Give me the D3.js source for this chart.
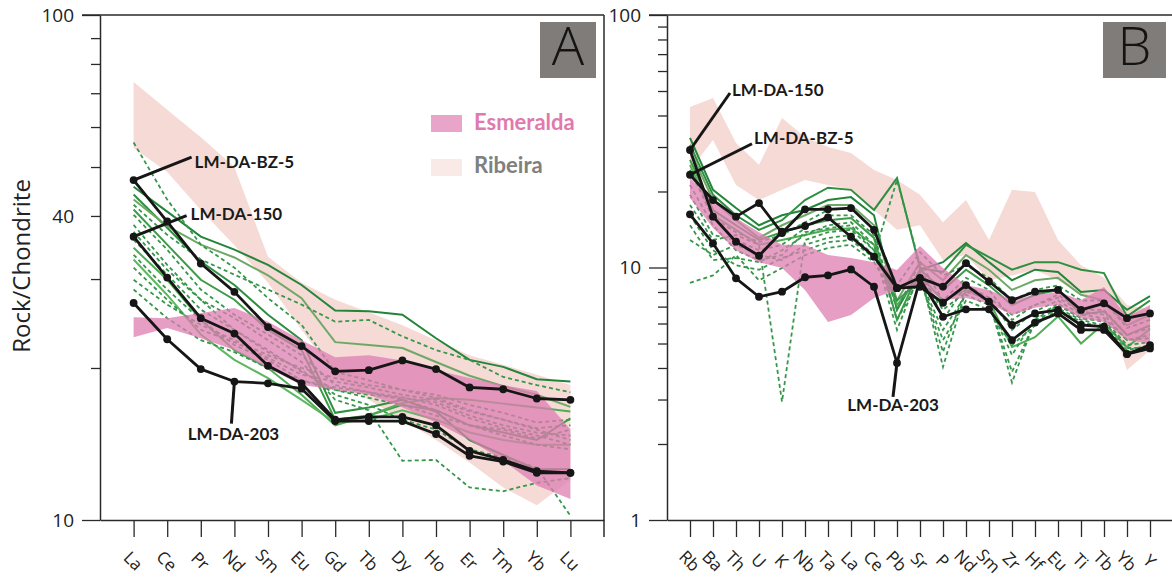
<!DOCTYPE html>
<html><head><meta charset="utf-8">
<script src="https://cdn.jsdelivr.net/npm/d3@7"></script>
<style>body{margin:0;background:#fff} svg{display:block}</style>
</head><body>
<svg id="c" width="1172" height="579"></svg>
<script>
// ---------- Panel A : REE ----------
const catsA = ["La","Ce","Pr","Nd","Sm","Eu","Gd","Tb","Dy","Ho","Er","Tm","Yb","Lu"];
const ticksA = [10,40,100];
const blackA_BZ5 = [47.1,39.0,32.2,28.3,24.1,22.1,19.7,19.8,20.7,19.9,18.3,18.15,17.4,17.3];
const blackA_150 = [36.4,30.2,25.1,23.4,20.2,18.65,15.8,16.0,16.0,15.4,13.7,13.15,12.5,12.4];
const blackA_203 = [26.9,22.8,19.9,18.8,18.65,18.2,15.7,15.7,15.7,14.8,13.4,13.05,12.4,12.4];
const ribeiraA_hi = [73.7,64.9,57.3,50.0,33.2,29.5,27.3,25.8,24.3,22.7,21.2,20.3,19.4,18.5];
const ribeiraA_lo = [54.5,48.9,41.1,35.0,29.5,23.8,19.4,17.3,15.8,14.4,13.0,11.6,10.7,12.0];
const esmeraldaA_hi = [25.2,25.1,25.7,26.3,24.7,22.7,21.0,21.2,20.7,19.8,19.1,18.5,18.0,15.1];
const esmeraldaA_lo = [23.0,24.0,22.9,21.7,20.0,18.5,18.1,17.7,16.7,15.6,14.4,13.1,11.7,11.0];
const greenSolidA = [
  [45.7,40.8,36.4,34.3,32.0,29.2,26.0,25.9,25.5,22.9,20.75,20.1,19.0,18.8],
  [44.1,37.9,32.5,29.2,25.5,22.7,16.3,16.7,17.3,16.4,14.4,13.45,12.6,12.6],
  [43.1,38.2,35.1,33.1,30.5,27.5,22.5,22.2,21.9,20.55,19.3,18.4,17.7,16.75],
  [41.2,35.1,29.9,27.3,23.8,21.7,15.8,16.1,16.9,16.5,15.4,14.9,14.4,15.9],
  [34.6,29.9,24.9,21.7,20.0,17.7,15.4,16.1,17.05,17.45,17.3,17.0,16.7,16.4],
  [32.8,27.9,23.3,20.75,19.1,17.3,15.6,15.8,16.5,15.8,14.9,14.4,14.1,14.1]
];
const greenDashedA = [
  [55.9,43.1,35.1,31.6,27.5,24.35,19.65,18.9,18.1,17.45,16.5,15.8,15.1,14.4],
  [42.1,36.7,32.8,30.6,28.6,26.7,24.7,24.9,23.1,21.7,20.75,19.2,18.5,17.9],
  [40.2,34.3,28.6,25.5,23.3,21.2,18.5,17.9,17.3,16.5,15.4,14.7,14.1,13.8],
  [38.4,32.0,27.3,25.1,22.7,20.55,17.3,16.5,13.1,13.15,11.6,11.4,11.85,12.1],
  [35.9,30.6,26.1,23.8,21.5,19.8,17.7,16.9,15.8,15.1,13.8,13.3,12.7,10.2],
  [33.5,28.6,24.9,22.2,20.75,18.9,18.1,17.45,16.9,16.1,15.4,15.1,14.5,15.1],
  [31.6,27.3,23.8,22.5,20.95,19.4,18.8,18.3,17.7,17.3,16.4,15.8,15.2,15.4],
  [29.9,26.7,24.35,22.7,21.2,20.0,19.1,18.5,18.1,17.7,16.9,16.3,15.6,15.8],
  [37.2,31.3,27.3,23.8,21.7,19.65,18.1,17.7,17.45,17.1,16.1,15.4,14.9,14.7],
  [28.6,25.1,22.7,21.5,20.0,18.9,18.3,17.9,17.5,16.9,15.9,15.2,14.7,14.1]
];

// ---------- Panel B : spider ----------
const catsB = ["Rb","Ba","Th","U","K","Nb","Ta","La","Ce","Pb","Sr","P","Nd","Sm","Zr","Hf","Eu","Ti","Tb","Yb","Y"];
const ticksB = [1,10,100];
const blackB_BZ5 = [23.3,18.5,15.9,18.0,13.7,17.0,17.0,17.2,14.1,8.3,9.1,8.4,10.4,8.8,7.43,8.02,8.15,6.79,7.21,6.30,6.58];
const blackB_150 = [29.2,15.9,12.65,11.13,13.86,14.6,15.8,13.24,11.04,8.28,8.39,7.25,8.52,7.32,5.92,6.58,6.79,5.92,5.83,4.54,4.93];
const blackB_203 = [16.24,12.47,9.06,7.66,8.02,9.15,9.31,9.83,8.39,4.19,8.98,6.38,6.83,6.83,5.16,6.05,6.58,5.66,5.66,4.54,4.78];
const ribeiraB_hi = [43.2,46.9,31.1,25.5,39.1,32.9,30.0,28.4,24.35,22.2,19.4,15.1,18.5,12.85,20.3,19.9,12.85,10.2,9.1,7.1,6.8];
const ribeiraB_lo = [24.35,32.0,21.2,18.5,20.3,22.2,21.2,20.3,16.9,14.1,14.7,10.7,11.2,8.9,9.3,9.8,8.9,7.8,7.4,3.93,4.7];
const esmeraldaB_hi = [22.6,18.5,15.7,13.8,12.3,12.3,11.2,10.9,10.5,9.77,12.17,9.95,8.52,8.15,7.43,7.78,8.0,7.43,8.37,6.38,7.1];
const esmeraldaB_lo = [18.85,14.34,11.7,10.5,9.95,8.15,6.09,6.48,7.57,8.15,8.52,7.43,7.57,7.2,6.48,6.92,7.1,6.3,6.09,5.16,5.0];
const greenSolidB = [
  [32.6,20.3,17.2,14.7,16.1,16.9,18.5,19.0,16.1,6.8,9.8,10.5,12.5,10.5,8.9,9.8,9.6,8.0,8.15,6.8,7.7],
  [30.6,19.4,16.1,14.1,15.4,18.5,20.7,20.3,16.9,22.6,9.95,9.6,12.3,11.0,9.8,10.5,10.5,9.8,9.5,6.4,7.4],
  [29.2,18.5,15.4,13.1,14.7,16.1,17.7,17.7,14.7,7.4,10.5,8.9,11.2,9.8,8.15,8.9,9.1,7.8,7.4,5.9,6.5],
  [26.7,16.9,14.7,12.85,13.8,14.7,15.4,15.7,13.1,6.2,9.8,8.15,9.8,8.5,7.1,7.8,8.15,6.5,6.7,5.4,5.9],
  [25.5,16.1,14.1,12.3,12.85,13.45,14.1,14.3,12.3,7.1,9.3,7.4,8.15,7.4,4.84,5.3,6.4,5.0,6.0,4.84,5.7]
];
const greenDashedB = [
  [21.2,14.7,11.7,10.7,11.2,13.8,14.3,14.7,11.7,5.66,9.6,4.04,8.15,7.4,3.5,6.2,7.1,6.3,6.2,4.93,5.07],
  [17.7,12.85,13.45,12.3,2.94,12.85,13.8,14.1,11.7,7.4,8.9,5.66,7.8,7.1,4.5,6.3,7.2,6.3,6.1,4.8,4.8],
  [12.85,11.2,12.3,11.2,10.7,12.3,13.1,13.45,11.2,22.2,10.2,6.2,8.5,7.6,5.66,6.7,7.4,6.5,6.3,5.16,5.4],
  [14.7,10.7,10.9,10.5,11.7,13.45,14.7,15.1,12.3,6.2,9.1,4.63,8.3,7.3,3.86,6.1,6.9,6.2,5.9,4.7,4.93],
  [19.4,13.45,12.85,11.7,12.3,14.3,16.1,16.1,13.45,6.8,10.5,7.4,9.1,8.15,6.2,7.1,7.8,6.8,6.8,5.4,5.76],
  [16.1,11.7,10.2,9.8,10.9,11.7,12.6,12.85,10.9,8.15,9.3,6.8,8.0,7.6,6.5,7.1,7.6,6.7,6.5,5.16,5.25],
  [8.7,9.3,11.2,8.9,9.95,11.2,11.95,12.3,10.5,7.4,8.9,5.16,7.4,6.8,4.93,5.9,6.8,6.1,5.76,4.63,4.71],
  [24.35,15.7,13.8,12.6,13.45,15.1,16.9,17.2,14.1,8.5,11.5,9.3,10.2,9.1,7.4,8.15,8.5,7.4,7.4,5.76,6.2]
];

const yTitle = "Rock/Chondrite";
const legendNames = ["Esmeralda","Ribeira"];
const panelLetters = ["A","B"];
const sampleNames = ["LM-DA-BZ-5","LM-DA-150","LM-DA-203"];

// ---------- drawing ----------
const svg = d3.select("#c");
const tickFont = "'Open Sans', sans-serif";
const boldFont = "Lato, 'Open Sans', sans-serif";
const axisCol = "#2a2a2a";
const solidCols = ["#23853a","#2e8f3f","#6fa866","#3c9a48","#4fae55","#5cb85e"];
const dashCol = "#36974a";
const esmCol = "#de7db2", ribCol = "#f3d1ca";

function drawPanel(o) {
  const g = svg.append("g");
  const x = d3.scalePoint().domain(o.cats).range([o.x0, o.x1]).padding(1);
  const y = d3.scaleLog().domain(o.ydom).range([520, 15]);
  const line = d3.line().x((d,i)=>x(o.cats[i])).y(d=>y(d));
  const area = (hi, lo) => d3.area().x((d,i)=>x(o.cats[i])).y0((d,i)=>y(lo[i])).y1(d=>y(d))(hi);

  g.append("path").attr("d", area(o.ribHi, o.ribLo)).attr("fill", ribCol).attr("opacity", 0.8);
  o.solid.forEach((s,i)=> g.append("path").attr("d", line(s)).attr("fill","none")
     .attr("stroke", solidCols[i % solidCols.length]).attr("stroke-width", 2));
  o.dashed.forEach(s=> g.append("path").attr("d", line(s)).attr("fill","none")
     .attr("stroke", dashCol).attr("stroke-width", 1.8).attr("stroke-dasharray","4,3"));
  g.append("path").attr("d", area(o.esmHi, o.esmLo)).attr("fill", esmCol).attr("opacity", 0.75);
  o.black.forEach(s=>{
    g.append("path").attr("d", line(s)).attr("fill","none").attr("stroke","#161616")
      .attr("stroke-width", 2.8).attr("stroke-linejoin","round");
    g.selectAll(null).data(s).enter().append("circle")
      .attr("cx",(d,i)=>x(o.cats[i])).attr("cy",d=>y(d)).attr("r",3.9).attr("fill","#161616");
  });
  o.labels.forEach(l=>{
    const px = x(o.cats[l.ci]), py = y(l.data[l.ci]);
    g.append("line").attr("x1",px).attr("y1",py).attr("x2",px+l.dx).attr("y2",py+l.dy)
      .attr("stroke","#161616").attr("stroke-width",3);
    g.append("text").attr("x",px+l.tx).attr("y",py+l.ty).attr("text-anchor",l.anchor)
      .attr("dominant-baseline","middle").attr("font-family",boldFont).attr("font-weight","bold")
      .attr("font-size",17).attr("fill","#1a1a1a").text(l.text);
  });

  const ya = g.append("g").attr("transform",`translate(${o.x0},0)`)
    .call(d3.axisLeft(y).tickValues(o.allTicks).tickSize(9).tickSizeOuter(0)
      .tickFormat(d=> o.ticks.includes(d) ? d : ""));
  ya.select(".domain").attr("stroke",axisCol).attr("stroke-width",1.5);
  ya.selectAll(".tick line").attr("stroke",axisCol).attr("stroke-width",1.3)
    .attr("x2", d => o.longTicks.includes(d) ? -18 : -9);
  ya.selectAll(".tick text").attr("x",-26).attr("font-family",tickFont).attr("font-size",19).attr("fill","#222");

  const xa = g.append("g").attr("transform","translate(0,520)")
    .call(d3.axisBottom(x).tickSize(17).tickSizeOuter(0));
  xa.select(".domain").attr("stroke",axisCol).attr("stroke-width",1.5);
  xa.selectAll(".tick line").attr("stroke",axisCol).attr("stroke-width",1.3);
  xa.selectAll(".tick text").attr("y",null).attr("dy",null)
    .attr("transform","translate(-2,42) rotate(45)").attr("text-anchor","middle")
    .attr("dominant-baseline","middle").attr("font-family",tickFont).attr("font-size",17).attr("fill","#222");
  g.append("line").attr("x1",o.x1).attr("x2",o.x1).attr("y1",o.rightTop).attr("y2",537).attr("stroke",axisCol).attr("stroke-width",1.5);
  g.append("line").attr("x1",o.x0-18).attr("x2",o.x1).attr("y1",15).attr("y2",15).attr("stroke",axisCol).attr("stroke-width",1.5);

  g.append("rect").attr("x",o.box[0]).attr("y",22).attr("width",o.box[1]).attr("height",56).attr("fill","#807c79");
  g.append("text").attr("x",o.box[0]+o.box[1]/2).attr("y",51).attr("text-anchor","middle")
    .attr("dominant-baseline","middle").attr("font-family",tickFont).attr("font-weight",300)
    .attr("font-size",54).attr("fill","#141414").text(o.letter);
  return {x,y,g};
}

const minorA = [10,20,30,40,50,60,70,80,90,100];
const minorB = [1,2,3,4,5,6,7,8,9,10,20,30,40,50,60,70,80,90,100];

drawPanel({cats:catsA, x0:100, x1:604, ydom:[10,100], ticks:ticksA, allTicks:minorA, longTicks:[10,100],
  ribHi:ribeiraA_hi, ribLo:ribeiraA_lo, esmHi:esmeraldaA_hi, esmLo:esmeraldaA_lo,
  solid:greenSolidA, dashed:greenDashedA, black:[blackA_BZ5, blackA_150, blackA_203],
  rightTop:15, box:[540,56], letter:panelLetters[0],
  labels:[
    {data:blackA_BZ5, ci:0, dx:58, dy:-23, tx:61, ty:-16, anchor:"start", text:sampleNames[0]},
    {data:blackA_150, ci:0, dx:53, dy:-21, tx:57, ty:-21, anchor:"start", text:sampleNames[1]},
    {data:blackA_203, ci:3, dx:-3, dy:42, tx:-1, ty:54, anchor:"middle", text:sampleNames[2]}
  ]});

drawPanel({cats:catsB, x0:667, x1:1173, ydom:[1,100], ticks:ticksB, allTicks:minorB, longTicks:[1,10,100],
  ribHi:ribeiraB_hi, ribLo:ribeiraB_lo, esmHi:esmeraldaB_hi, esmLo:esmeraldaB_lo,
  solid:greenSolidB, dashed:greenDashedB, black:[blackB_BZ5, blackB_150, blackB_203],
  rightTop:520, box:[1103,63], letter:panelLetters[1],
  labels:[
    {data:blackB_150, ci:0, dx:40, dy:-57, tx:42, ty:-58, anchor:"start", text:sampleNames[1]},
    {data:blackB_BZ5, ci:0, dx:62, dy:-31, tx:64, ty:-35, anchor:"start", text:sampleNames[0]},
    {data:blackB_203, ci:9, dx:-4, dy:34, tx:-4, ty:44, anchor:"middle", text:sampleNames[2]}
  ]});

const leg = svg.append("g");
leg.append("rect").attr("x",431).attr("y",115).attr("width",31).attr("height",17).attr("fill",esmCol).attr("opacity",0.7);
leg.append("text").attr("x",474).attr("y",124).attr("dominant-baseline","middle").attr("font-family",boldFont)
  .attr("font-weight","bold").attr("font-size",22).attr("fill","#e07aad").text(legendNames[0]);
leg.append("rect").attr("x",431).attr("y",159).attr("width",31).attr("height",17).attr("fill",ribCol).attr("opacity",0.45);
leg.append("text").attr("x",474).attr("y",167).attr("dominant-baseline","middle").attr("font-family",boldFont)
  .attr("font-weight","bold").attr("font-size",22).attr("fill","#808080").text(legendNames[1]);

svg.append("text").attr("transform","translate(24,266) rotate(-90)").attr("text-anchor","middle")
  .attr("dominant-baseline","middle").attr("font-family",tickFont).attr("font-size",24).attr("fill","#222").text(yTitle);
</script></body></html>
